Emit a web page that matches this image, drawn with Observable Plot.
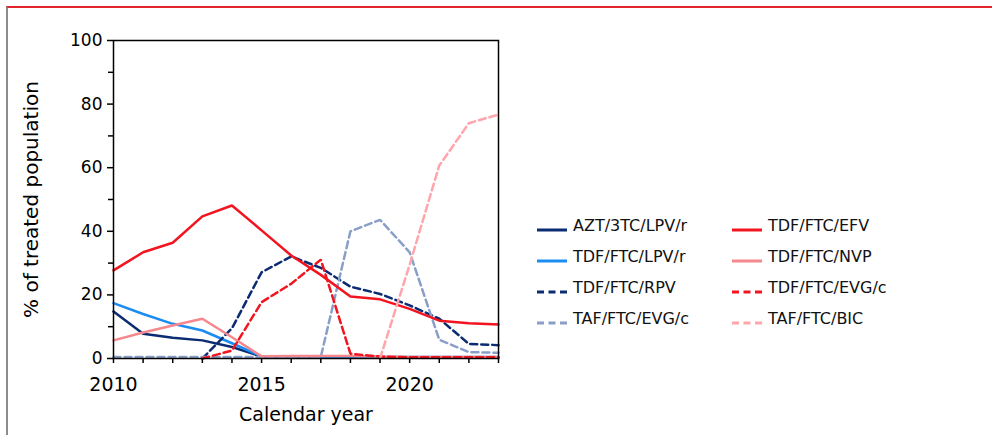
<!DOCTYPE html>
<html><head><meta charset="utf-8">
<script src="https://cdn.jsdelivr.net/npm/d3@7"></script>
<script src="https://cdn.jsdelivr.net/npm/@observablehq/plot@0.6"></script>
<style>
html,body{margin:0;padding:0;background:#fff;}
#wrap{position:relative;width:992px;height:435px;overflow:hidden;font-family:"DejaVu Sans",Verdana,sans-serif;}
#border{position:absolute;left:6px;top:6px;right:-10px;bottom:-10px;border-top:2px solid #e3262d;border-left:2px solid #8c8c8c;}
#chart,#legend{position:absolute;left:0;top:0;}
</style></head><body>
<div id="wrap"><div id="border"></div><div id="chart"></div><svg id="legend" width="992" height="435"></svg></div>
<script>
const years = [2010,2011,2012,2013,2014,2015,2016,2017,2018,2019,2020,2021,2022,2023];
const seriesNames = ["AZT/3TC/LPV/r","TDF/FTC/LPV/r","TDF/FTC/RPV","TAF/FTC/EVG/c",
                     "TDF/FTC/EFV","TDF/FTC/NVP","TDF/FTC/EVG/c","TAF/FTC/BIC"];
const seriesColors = ["#0b2b72","#1c8cf5","#0b2b72","#8a9fc8","#f2141e","#f5888c","#f2141e","#ffa5ab"];
const seriesDashed = [false,false,true,true,false,false,true,true];

const aztLpv  = [14.8, 7.8, 6.5, 5.7, 3.6, 0.6, 0.3, 0.3, 0.3, 0.3, 0.3, 0.3, 0.3, 0.3];
const tdfLpv  = [17.4, 14.0, 10.9, 8.8, 4.8, 0.7, 0.5, 0.5, 0.5, 0.5, 0.5, 0.5, 0.5, 0.5];
const tdfRpv  = [null, null, null, 0, 9.5, 27.1, 32.1, 28.5, 22.6, 20.3, 16.7, 12.5, 4.6, 4.2];
const tafEvg  = [0.5, 0.5, 0.5, 0.5, 0.5, 0.5, 0.5, 0.5, 40.0, 43.6, 33.4, 5.9, 2.0, 1.8];
const tdfEfv  = [27.7, 33.4, 36.4, 44.7, 48.1, 40.3, 32.4, 26.3, 19.5, 18.6, 15.6, 11.9, 11.1, 10.7];
const tdfNvp  = [5.7, 8.2, 10.4, 12.5, 6.7, 0.7, 0.8, 0.8, 0.8, 0.6, 0.5, 0.5, 0.5, 0.5];
const tdfEvg  = [null, null, null, 0, 2.5, 17.7, 23.5, 31.1, 1.5, 0.6, 0.4, 0.4, 0.4, 0.4];
const tafBic  = [null, null, null, null, null, null, null, null, null, 0, 29.5, 60.7, 74.0, 76.7];
const seriesValues = [aztLpv, tdfLpv, tdfRpv, tafEvg, tdfEfv, tdfNvp, tdfEvg, tafBic];

const yMajorTicks = [0,20,40,60,80,100];
const yMinorTicks = [10,30,50,70,90];
const xLabelTicks = [2010,2015,2020];

const data = [];
seriesNames.forEach((name,i)=> years.forEach((yr,j)=> data.push({name, year: yr, value: seriesValues[i][j]})));

const lineMarks = seriesNames.map((name,i)=> Plot.line(data.filter(d=>d.name===name), {
  x: "year", y: "value", stroke: seriesColors[i], strokeWidth: 2.5,
  strokeDasharray: seriesDashed[i] ? "7,4" : null, strokeLinejoin: "miter"
}));

const chart = Plot.plot({
  width: 992, height: 435,
  marginLeft: 113, marginRight: 494, marginTop: 40, marginBottom: 77,
  style: {fontFamily: "DejaVu Sans, Verdana, sans-serif", color: "#000", background: "transparent", overflow: "visible"},
  x: {domain: [2010, 2023]},
  y: {domain: [0, 100]},
  marks: [
    ...lineMarks,
    Plot.frame({stroke: "#000", strokeWidth: 1.5}),
    Plot.axisY({ticks: yMinorTicks, tickSize: 5, tickFormat: () => "", label: null, strokeWidth: 1.5}),
    Plot.axisY({ticks: yMajorTicks, tickSize: 6, tickPadding: 5, fontSize: 17, label: null, strokeWidth: 1.5}),
    Plot.axisX({ticks: years, tickSize: 5, tickPadding: 14, fontSize: 19, label: null, strokeWidth: 1.5,
      tickFormat: d => xLabelTicks.includes(d) ? String(d) : ""}),
    Plot.text(["Calendar year"], {frameAnchor: "bottom", dy: 56, fontSize: 19, lineAnchor: "middle", textAnchor: "middle", text: d => d}),
    Plot.text(["% of treated population"], {frameAnchor: "left", dx: -82, rotate: -90, fontSize: 20, lineAnchor: "middle", textAnchor: "middle", text: d => d})
  ]
});
document.getElementById("chart").appendChild(chart);

const leg = d3.select("#legend");
seriesNames.forEach((name,i)=>{
  const col = i < 4 ? 0 : 1, row = i % 4;
  const x0 = col ? 732 : 537, y0 = 230 + row * 31;
  leg.append("line").attr("x1", x0).attr("x2", x0 + 30).attr("y1", y0).attr("y2", y0)
    .attr("stroke", seriesColors[i]).attr("stroke-width", 3)
    .attr("stroke-dasharray", seriesDashed[i] ? "7,4.5" : null);
  leg.append("text").attr("x", x0 + 36).attr("y", y0 + 0.5).text(name)
    .attr("font-size", 16).attr("font-family", "DejaVu Sans, Verdana, sans-serif").attr("fill", "#111");
});
</script>
</body></html>
